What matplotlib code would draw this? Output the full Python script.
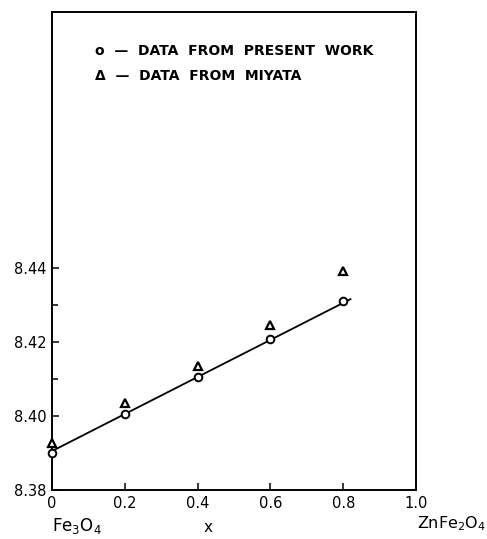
import matplotlib
matplotlib.use("Agg")
import matplotlib.pyplot as plt
from matplotlib.ticker import FixedLocator

# Lattice parameter versus zinc content x in Zn(x)Fe(3-x)O4
x_present = [0.0, 0.2, 0.4, 0.6, 0.8]
a_present = [8.390, 8.4005, 8.4105, 8.4208, 8.4310]

x_miyata = [0.0, 0.2, 0.4, 0.6, 0.8]
a_miyata = [8.3927, 8.4035, 8.4135, 8.4246, 8.4390]

# straight-line fit through the present data
fit_x = [0.0, 0.82]
fit_a = [8.3905, 8.4315]

x_ticks = [0.2, 0.4, 0.6, 0.8]
x_label_pos = [0.0, 0.2, 0.4, 0.6, 0.8, 1.0]
x_ticklabels = ["0", "0.2", "0.4", "0.6", "0.8", "1.0"]
y_ticks = [8.38, 8.40, 8.42, 8.44]
y_ticklabels = ["8.38", "8.40", "8.42", "8.44"]
y_minor = [8.41, 8.43]

plt.rcParams["font.family"] = ["DejaVu Sans"]

fig = plt.figure(figsize=(4.87, 5.39), dpi=100)
ax = fig.add_axes([52 / 487, 49 / 539, 364 / 487, 478 / 539])

ax.plot(fit_x, fit_a, color="black", lw=1.3, zorder=2)
ax.plot(x_present, a_present, linestyle="none", marker="o", ms=5.5,
        mfc="white", mec="black", mew=1.4, clip_on=False, zorder=3)
ax.plot(x_miyata, a_miyata, linestyle="none", marker="^", ms=6,
        mfc="white", mec="black", mew=1.6, clip_on=False, zorder=3)

ax.set_xlim(0.0, 1.0)
ax.set_ylim(8.38, 8.509)

# tick marks only at interior positions; labels at every step
ax.xaxis.set_major_locator(FixedLocator(x_ticks))
ax.set_xticklabels([])
for xv, lab in zip(x_label_pos, x_ticklabels):
    ax.annotate(lab, xy=(xv, 0), xycoords=("data", "axes fraction"),
                xytext=(0, -4), textcoords="offset points",
                ha="center", va="top", fontsize=10.5, fontweight="medium")

ax.yaxis.set_major_locator(FixedLocator(y_ticks))
ax.set_yticklabels(y_ticklabels, fontweight="medium")
ax.yaxis.set_minor_locator(FixedLocator(y_minor))

ax.tick_params(axis="both", which="major", direction="in", length=5,
               width=1.1, labelsize=10.5, pad=4)
ax.tick_params(axis="y", which="minor", direction="in", length=4, width=1.1)

for s in ax.spines.values():
    s.set_linewidth(1.4)

# legend written as text inside the frame
ax.text(0.118, 0.918, "o  —  DATA  FROM  PRESENT  WORK", transform=ax.transAxes,
        fontsize=10, fontweight="semibold", va="center", ha="left")
ax.text(0.118, 0.866, "\u0394  —  DATA  FROM  MIYATA", transform=ax.transAxes,
        fontsize=10, fontweight="semibold", va="center", ha="left")

# end-member compositions and axis name
fig.text(52 / 487, 1 - 526 / 539, r"Fe$_3$O$_4$", fontsize=12, ha="left", va="center")
fig.text(208 / 487, 1 - 527 / 539, "x", fontsize=11, ha="center", va="center")
fig.text(486 / 487, 1 - 524 / 539, r"ZnFe$_2$O$_4$", fontsize=11.5, ha="right", va="center")

fig.savefig("out.png", dpi=100)
